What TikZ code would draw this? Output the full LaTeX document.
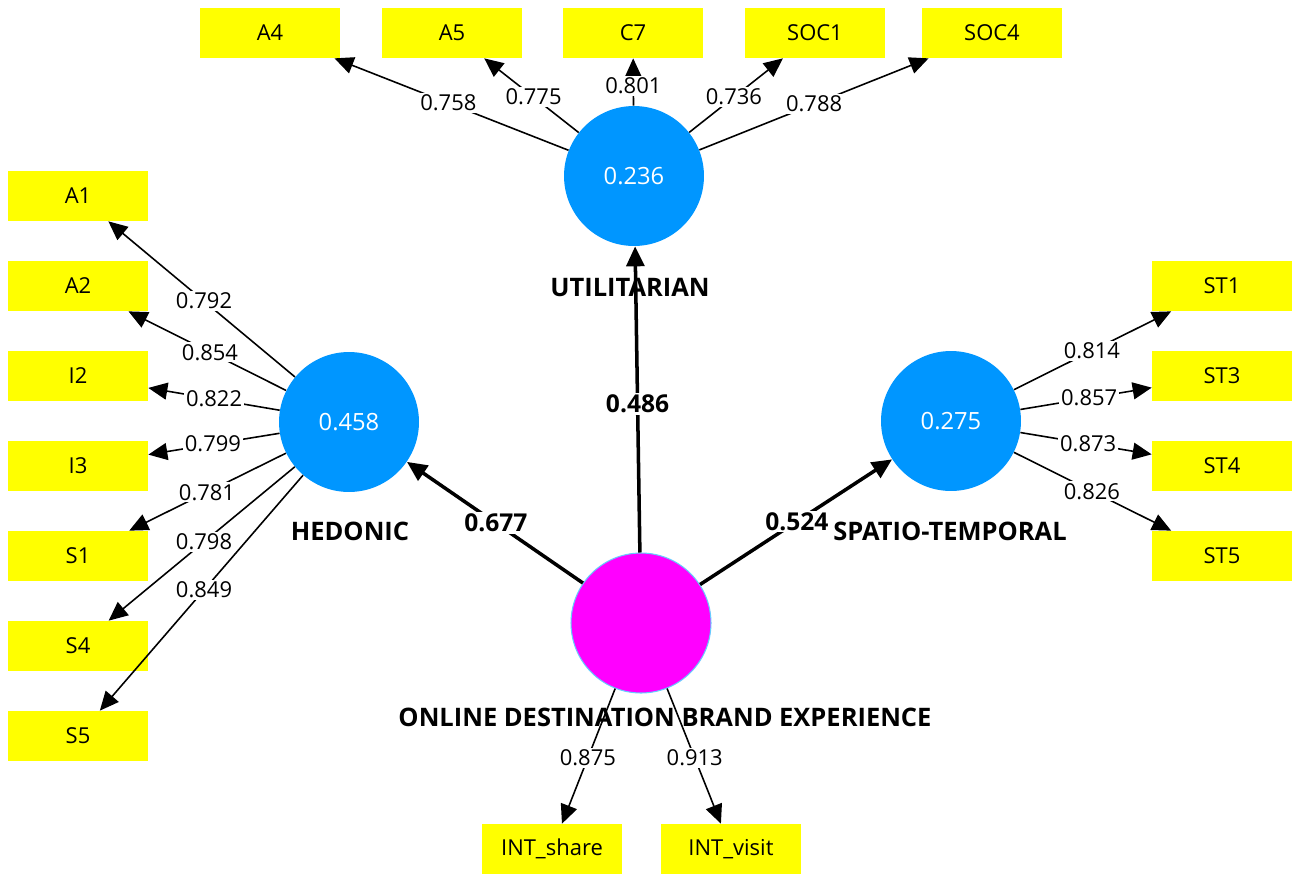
\documentclass[tikz,border=0pt]{standalone}
\usepackage{fontspec}
\setmainfont{Open Sans}
\usetikzlibrary{arrows.meta,calc}
\definecolor{indyellow}{HTML}{FFFF00}
\definecolor{lvblue}{HTML}{0096FF}
\definecolor{lvpink}{HTML}{FF00FF}
\definecolor{rimblue}{HTML}{66CCFF}

\tikzset{
  ind/.style={fill=indyellow,minimum width=2.8cm,minimum height=1cm,inner sep=0pt,font=\fontsize{12.5}{14}\selectfont},
  lv/.style={circle,fill=lvblue,minimum size=2.8cm,inner sep=0pt,text=white,font=\fontsize{13.5}{15}\selectfont},
  lvname/.style={font=\fontsize{14.5}{16}\selectfont\bfseries},
  load/.style={-{Triangle[length=0.38cm,width=0.34cm]},line width=0.9pt},
  struct/.style={-{Triangle[length=0.4cm,width=0.36cm]},line width=2pt},
  lbl/.style={fill=white,inner sep=1pt,font=\fontsize{12.5}{14}\selectfont},
  coef/.style={fill=white,inner sep=1pt,font=\fontsize{14}{16}\selectfont\bfseries}
}

\begin{document}
\begin{tikzpicture}[x=0.02cm,y=-0.02cm]
\useasboundingbox[fill=white] (0,0) rectangle (1292,873);

% latent variables
\node[lv] (uti) at (634,176) {0.236};
\node[lv] (hed) at (349,422) {0.458};
\node[lv] (spt) at (951,421) {0.275};
\node[lv,fill=lvpink,draw=rimblue,line width=0.6pt] (odbe) at (641,623) {};

\node[lvname] (utiname) at (630,287) {UTILITARIAN};
\node[lvname] (hedname) at (350,531) {HEDONIC};
\node[lvname] (sptname) at (950,531) {SPATIO-TEMPORAL};
\node[lvname] (odbename) at (665,717) {ONLINE DESTINATION BRAND EXPERIENCE};

% indicators
\foreach \n/\y in {A1/196,A2/286,I2/376,I3/466,S1/556,S4/646,S5/736}
  \node[ind] (\n) at (78,\y) {\n};
\foreach \n/\x in {A4/270,A5/452,C7/633,SOC1/815,SOC4/992}
  \node[ind] (\n) at (\x,33) {\n};
\foreach \n/\y in {ST1/286,ST3/376,ST4/466,ST5/556}
  \node[ind] (\n) at (1222,\y) {\n};
\node[ind] (INTs) at (552,849) {INT\_share};
\node[ind] (INTv) at (731,849) {INT\_visit};

% loadings
\foreach \n/\f/\v in {A1/0.535/0.792,A2/0.513/0.854,I2/0.498/0.822,I3/0.502/0.799,S1/0.524/0.781,S4/0.535/0.798,S5/0.535/0.849}{
  \draw[load] (hed) -- (\n);
  \node[lbl] (l\n) at ($(hed)!\f!(\n)$) {\v};
}
\foreach \n/\f/\v in {A4/0.51/0.758,A5/0.552/0.775,C7/0.63/0.801,SOC1/0.552/0.736,SOC4/0.503/0.788}{
  \draw[load] (uti) -- (\n);
  \node[lbl] (l\n) at ($(uti)!\f!(\n)$) {\v};
}
\foreach \n/\f/\v in {ST1/0.52/0.814,ST3/0.51/0.857,ST4/0.506/0.873,ST5/0.52/0.826}{
  \draw[load] (spt) -- (\n);
  \node[lbl] (l\n) at ($(spt)!\f!(\n)$) {\v};
}
\foreach \n/\v in {INTs/0.875,INTv/0.913}{
  \draw[load] (odbe) -- (\n);
  \node[lbl] (l\n) at ($(odbe)!0.597!(\n)$) {\v};
}

% paths
\draw[struct] (odbe) -- (uti);
\node[coef] (puti) at ($(odbe)!0.49!(uti)$) {0.486};
\draw[struct] (odbe) -- (hed);
\node[coef] (phed) at ($(odbe)!0.497!(hed)$) {0.677};
\draw[struct] (odbe) -- (spt);
\node[coef] (pspt) at ($(odbe)!0.503!(spt)$) {0.524};
\end{tikzpicture}
\end{document}
